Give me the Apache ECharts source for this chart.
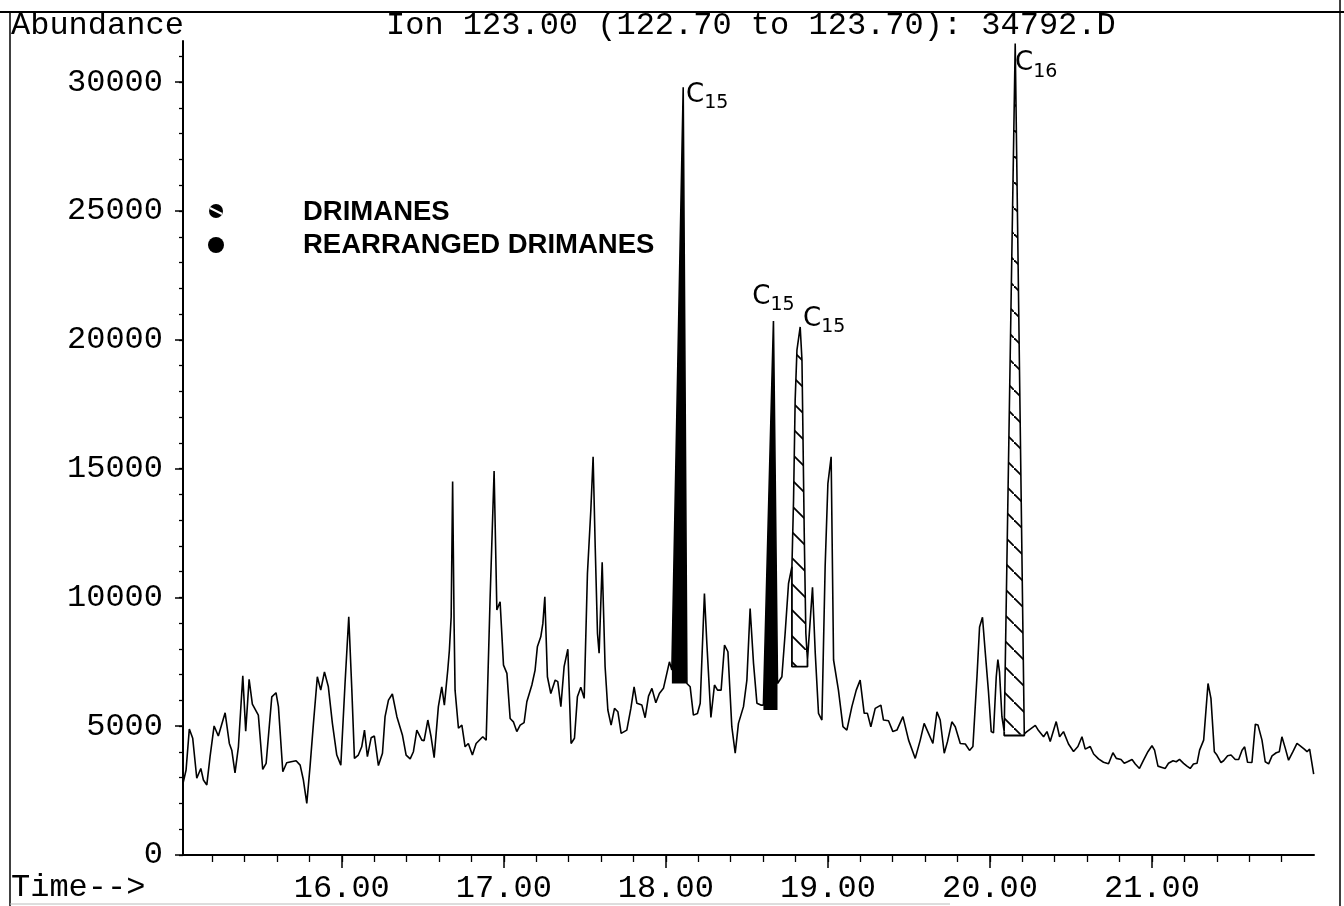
<!DOCTYPE html>
<html>
<head>
<meta charset="utf-8">
<script src="https://cdn.jsdelivr.net/npm/echarts@6/dist/echarts.min.js"></script>
<style>
html, body { margin: 0; padding: 0; background: #fff; }
#main { width: 1344px; height: 906px; }
</style>
</head>
<body>
<div id="main"></div>
<script>
// retention time (min) and abundance
var times = [
  15.020, 15.039, 15.059, 15.080, 15.105, 15.130, 15.146, 15.167, 15.187, 15.212,
  15.238, 15.280, 15.306, 15.321, 15.341, 15.362, 15.389, 15.407, 15.428, 15.448,
  15.485, 15.512, 15.533, 15.568, 15.594, 15.609, 15.636, 15.660, 15.687, 15.718,
  15.743, 15.763, 15.784, 15.804, 15.825, 15.849, 15.870, 15.893, 15.917, 15.942,
  15.969, 15.994, 16.020, 16.043, 16.062, 16.078, 16.102, 16.123, 16.140, 16.158,
  16.181, 16.201, 16.226, 16.251, 16.267, 16.288, 16.312, 16.340, 16.374, 16.397,
  16.422, 16.442, 16.463, 16.494, 16.508, 16.531, 16.551, 16.570, 16.596, 16.617,
  16.633, 16.654, 16.664, 16.675, 16.684, 16.693, 16.699, 16.720, 16.741, 16.761,
  16.781, 16.806, 16.829, 16.870, 16.891, 16.915, 16.940, 16.957, 16.977, 16.998,
  17.019, 17.039, 17.059, 17.080, 17.101, 17.125, 17.142, 17.173, 17.193, 17.207,
  17.228, 17.241, 17.253, 17.269, 17.290, 17.317, 17.333, 17.352, 17.372, 17.395,
  17.415, 17.436, 17.454, 17.475, 17.496, 17.516, 17.537, 17.551, 17.564, 17.578,
  17.588, 17.607, 17.625, 17.642, 17.662, 17.683, 17.704, 17.724, 17.759, 17.784,
  17.804, 17.821, 17.852, 17.872, 17.893, 17.914, 17.938, 17.960, 17.985, 18.006,
  18.022, 18.037, 18.107, 18.130, 18.150, 18.170, 18.195, 18.212, 18.238, 18.253,
  18.278, 18.300, 18.319, 18.341, 18.362, 18.383, 18.407, 18.428, 18.448, 18.479,
  18.500, 18.520, 18.541, 18.562, 18.586, 18.602, 18.664, 18.689, 18.716, 18.736,
  18.757, 18.778, 18.788, 18.798, 18.809, 18.829, 18.840, 18.846, 18.854, 18.864,
  18.874, 18.891, 18.905, 18.922, 18.942, 18.963, 18.983, 19.000, 19.020, 19.035,
  19.065, 19.093, 19.117, 19.148, 19.175, 19.199, 19.224, 19.244, 19.265, 19.292,
  19.327, 19.343, 19.374, 19.401, 19.426, 19.463, 19.498, 19.539, 19.570, 19.594,
  19.621, 19.648, 19.673, 19.693, 19.718, 19.738, 19.765, 19.786, 19.817, 19.848,
  19.874, 19.895, 19.920, 19.936, 19.954, 19.971, 19.991, 20.008, 20.022, 20.039,
  20.049, 20.059, 20.074, 20.088, 20.156, 20.212, 20.228, 20.249, 20.280, 20.300,
  20.331, 20.352, 20.372, 20.409, 20.430, 20.454, 20.485, 20.516, 20.543, 20.568,
  20.588, 20.619, 20.640, 20.670, 20.701, 20.732, 20.759, 20.780, 20.809, 20.829,
  20.849, 20.877, 20.897, 20.923, 20.948, 20.975, 21.000, 21.016, 21.037, 21.062,
  21.082, 21.102, 21.130, 21.150, 21.170, 21.195, 21.216, 21.236, 21.256, 21.278,
  21.294, 21.319, 21.346, 21.364, 21.385, 21.401, 21.426, 21.442, 21.467, 21.488,
  21.514, 21.535, 21.556, 21.572, 21.590, 21.617, 21.638, 21.654, 21.679, 21.699,
  21.720, 21.741, 21.767, 21.786, 21.802, 21.823, 21.843, 21.870, 21.895, 21.915,
  21.940, 21.957, 21.973, 21.998
];
var abundance = [
  2780, 3300, 4890, 4530, 2980, 3360, 2910, 2720, 3820, 5010,
  4620, 5520, 4330, 4070, 3190, 4200, 6960, 4810, 6820, 5860,
  5430, 3320, 3560, 6140, 6300, 5760, 3230, 3580, 3620, 3660,
  3490, 2910, 2000, 3430, 5110, 6920, 6400, 7110, 6530, 5110,
  3880, 3490, 6660, 9250, 6400, 3750, 3880, 4200, 4850, 3820,
  4550, 4620, 3470, 3950, 5370, 6010, 6250, 5370, 4660, 3880,
  3730, 4010, 4850, 4460, 4440, 5240, 4590, 3780, 5760, 6530,
  5820, 7180, 7950, 9250, 14500, 9000, 6400, 4920, 5040, 4200,
  4330, 3880, 4330, 4590, 4460, 9900, 14910, 9510, 9830, 7370,
  7050, 5300, 5170, 4790, 5040, 5140, 5950, 6600, 7180, 8080,
  8470, 8990, 10020, 6920, 6270, 6790, 6730, 5760, 7310, 7990,
  4330, 4530, 6140, 6510, 6080, 10930, 13390, 15460, 11960, 8600,
  7830, 11360, 7310, 5630, 5040, 5690, 5560, 4720, 4850, 5690,
  6530, 5890, 5820, 5330, 6170, 6470, 5910, 6270, 6470, 7050,
  7500, 7180, 29800, 6660, 6530, 5430, 5490, 5890, 10150, 8210,
  5340, 6600, 6400, 6400, 8150, 7890, 4980, 3950, 5110, 5760,
  6790, 9570, 7440, 5890, 5820, 5820, 20730, 6660, 6920, 8600,
  10540, 11190, 13780, 17660, 19600, 20500, 19210, 16360, 12480, 8600,
  7570, 9120, 10390, 7830, 5500, 5240, 11190, 14420, 15460, 7570,
  6400, 4980, 4850, 5760, 6400, 6790, 5500, 5500, 4980, 5690,
  5820, 5240, 5210, 4790, 4850, 5370, 4460, 3750, 4460, 5110,
  4720, 4330, 5560, 5240, 3950, 4400, 5170, 4980, 4330, 4310,
  4060, 4210, 6920, 8850, 9230, 7880, 6340, 4790, 4740, 6920,
  7590, 7110, 5370, 4790, 31500, 4700, 4790, 4890, 5030, 4830,
  4590, 4790, 4410, 5180, 4590, 4790, 4310, 4020, 4210, 4590,
  4110, 4210, 3920, 3730, 3600, 3540, 3970, 3750, 3710, 3560,
  3620, 3710, 3530, 3360, 3680, 4010, 4240, 4070, 3450, 3400,
  3360, 3560, 3660, 3620, 3710, 3560, 3450, 3360, 3530, 3560,
  4070, 4460, 6660, 6080, 4010, 3880, 3590, 3660, 3850, 3880,
  3710, 3710, 4070, 4200, 3600, 3590, 5080, 5050, 4460, 3620,
  3540, 3850, 3970, 4010, 4590, 4140, 3680, 4010, 4330, 4240,
  4110, 4010, 4110, 3140
];

// shaded peaks: [start time, end time, baseline abundance]
var rearrangedPeaks = [[18.037, 18.130, 6660], [18.602, 18.689, 5630]];
var drimanePeaks = [[18.778, 18.874, 7310], [20.088, 20.212, 4640]];

// hand-written carbon numbers: [subscript, apex time]
var peakLabels = [['15', 18.107], ['15', 18.664], ['15', 18.829], ['16', 20.156]];

var timeLabels = [16, 17, 18, 19, 20, 21];
var timeMinorTicks = [15.2, 15.4, 15.6, 15.8, 16.0, 16.2, 16.4, 16.6, 16.8, 17.0, 17.2, 17.4, 17.6, 17.8,
  18.0, 18.2, 18.4, 18.6, 18.8, 19.0, 19.2, 19.4, 19.6, 19.8, 20.0, 20.2, 20.4, 20.6, 20.8,
  21.0, 21.2, 21.4, 21.6, 21.8];
var abundanceLabels = [0, 5000, 10000, 15000, 20000, 25000, 30000];
var abundanceMinorTicks = [];
for (var k = 0; k <= 31; k++) abundanceMinorTicks.push(k * 1000);

var chartDom = document.getElementById('main');
var chart = echarts.init(chartDom, null, { renderer: 'canvas' });

var trace = [];
for (var i = 0; i < times.length; i++) {
  trace.push([times[i], abundance[i]]);
}

// diagonal hatch used for the drimane peaks
var hatch = document.createElement('canvas');
hatch.width = 26;
hatch.height = 26;
var hctx = hatch.getContext('2d');
hctx.fillStyle = '#fff';
hctx.fillRect(0, 0, 26, 26);
hctx.strokeStyle = '#000';
hctx.lineWidth = 1.8;
hctx.beginPath();
hctx.moveTo(-3, -3);
hctx.lineTo(29, 29);
hctx.stroke();

function peakPoints(p) {
  var pts = [];
  for (var i = 0; i < times.length; i++) {
    if (times[i] >= p[0] - 1e-6 && times[i] <= p[1] + 1e-6) pts.push([times[i], abundance[i]]);
  }
  return pts;
}

var series = [];

rearrangedPeaks.forEach(function (p) {
  series.push({
    type: 'line',
    data: peakPoints(p),
    symbol: 'none',
    silent: true,
    lineStyle: { width: 0 },
    areaStyle: { color: '#000', opacity: 1, origin: p[2] },
    z: 2
  });
});

drimanePeaks.forEach(function (p) {
  var pts = peakPoints(p);
  series.push({
    type: 'line',
    data: pts,
    symbol: 'none',
    silent: true,
    lineStyle: { width: 0 },
    areaStyle: { color: { image: hatch, repeat: 'repeat' }, opacity: 1, origin: p[2] },
    z: 2
  });
  var first = pts[0], last = pts[pts.length - 1];
  series.push({
    type: 'line',
    data: [first, [first[0], p[2]], [last[0], p[2]], last],
    symbol: 'none',
    silent: true,
    lineStyle: { color: '#000', width: 1.8 },
    z: 3
  });
});

var markData = peakLabels.map(function (l, n) {
  var idx = times.indexOf(l[1]);
  var offsets = [[24, 8], [0, -24], [24, -8], [21, 20]];
  return {
    name: l[0],
    coord: [times[idx], abundance[idx]],
    label: { offset: offsets[n] }
  };
});

series.push({
  type: 'line',
  data: trace,
  symbol: 'none',
  lineStyle: { color: '#000', width: 1.6 },
  z: 4,
  markPoint: {
    symbol: 'circle',
    symbolSize: 0,
    silent: true,
    data: markData,
    label: {
      show: true,
      position: 'inside',
      formatter: function (p) { return '{c|C}{s|' + p.name + '}'; },
      rich: {
        c: { fontSize: 26, fontFamily: 'DejaVu Sans', color: '#000' },
        s: { fontSize: 19, fontFamily: 'DejaVu Sans', color: '#000', padding: [16, 0, 0, 0] }
      }
    }
  }
});

var mono = 'Liberation Mono';

var option = {
  animation: false,
  backgroundColor: '#fff',
  grid: { left: 183, right: 30, top: 41, bottom: 51 },
  xAxis: [
    {
      type: 'value', min: 15.02, max: 22.0, position: 'bottom',
      axisLine: { lineStyle: { color: '#000', width: 2 } },
      axisTick: { customValues: timeLabels, length: 13, lineStyle: { color: '#000', width: 1.5 } },
      axisLabel: {
        customValues: timeLabels, color: '#000', fontFamily: mono, fontSize: 32, margin: 18,
        formatter: function (v) { return v.toFixed(2); }
      },
      splitLine: { show: false }
    },
    {
      type: 'value', min: 15.02, max: 22.0, position: 'bottom',
      axisLine: { show: false },
      axisTick: { customValues: timeMinorTicks, length: 7, lineStyle: { color: '#000', width: 1.3 } },
      axisLabel: { show: false },
      splitLine: { show: false }
    }
  ],
  yAxis: [
    {
      type: 'value', min: 0, max: 31600, position: 'left',
      axisLine: { show: true, lineStyle: { color: '#000', width: 2 } },
      axisTick: { show: true, customValues: abundanceLabels, length: 8, lineStyle: { color: '#000', width: 1.5 } },
      axisLabel: {
        customValues: abundanceLabels, color: '#000', fontFamily: mono, fontSize: 32, margin: 20,
        formatter: function (v) { return String(v); }
      },
      splitLine: { show: false }
    },
    {
      type: 'value', min: 0, max: 31600, position: 'left', offset: 0,
      axisLine: { show: false },
      axisTick: { show: true, customValues: abundanceMinorTicks, length: 4, lineStyle: { color: '#000', width: 1.3 } },
      axisLabel: { show: false },
      splitLine: { show: false }
    }
  ],
  series: series,
  graphic: [
    // titles
    { type: 'text', left: 11, top: 10, style: { text: 'Abundance', font: '32px ' + mono, fill: '#000' }, silent: true },
    { type: 'text', left: 386, top: 10, style: { text: 'Ion 123.00 (122.70 to 123.70): 34792.D', font: '32px ' + mono, fill: '#000' }, silent: true },
    { type: 'text', left: 11, top: 872, style: { text: 'Time-->', font: '32px ' + mono, fill: '#000' }, silent: true },
    // cut-off header from the previous page
    { type: 'text', left: 1108, top: -25, style: { text: '21.00', font: '32px ' + mono, fill: '#000' }, silent: true },
    // page frame
    { type: 'line', shape: { x1: 0, y1: 12, x2: 1344, y2: 12 }, style: { stroke: '#000', lineWidth: 2 }, silent: true },
    { type: 'line', shape: { x1: 10, y1: 12, x2: 10, y2: 906 }, style: { stroke: '#000', lineWidth: 1.5 }, silent: true },
    { type: 'line', shape: { x1: 1340, y1: 0, x2: 1340, y2: 906 }, style: { stroke: '#000', lineWidth: 1.5 }, silent: true },
    { type: 'line', shape: { x1: 10, y1: 904, x2: 950, y2: 904 }, style: { stroke: '#bbb', lineWidth: 1 }, silent: true },
    // legend
    { type: 'circle', shape: { cx: 216, cy: 211, r: 7 }, style: { fill: '#000' }, silent: true },
    { type: 'line', shape: { x1: 210, y1: 208, x2: 222, y2: 214 }, style: { stroke: '#fff', lineWidth: 2 }, silent: true },
    { type: 'circle', shape: { cx: 216, cy: 245, r: 8 }, style: { fill: '#000' }, silent: true },
    { type: 'text', left: 303, top: 198, style: { text: 'DRIMANES', font: 'bold 27.5px "Liberation Sans"', fill: '#000' }, silent: true },
    { type: 'text', left: 303, top: 231, style: { text: 'REARRANGED DRIMANES', font: 'bold 27.5px "Liberation Sans"', fill: '#000' }, silent: true }
  ]
};

chart.setOption(option);
</script>
</body>
</html>
